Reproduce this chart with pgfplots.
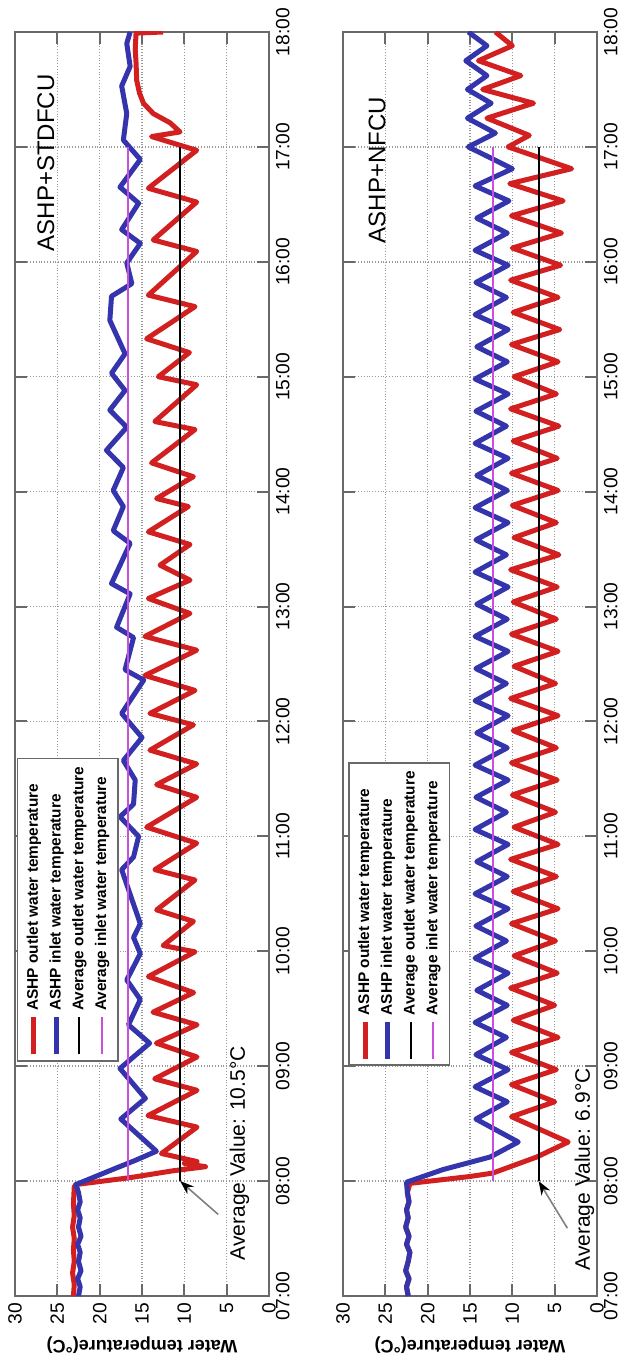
\documentclass[border=0pt]{standalone}
\usepackage{pgfplots}
\pgfplotsset{compat=1.18}
\usepackage{graphicx}
\usepackage{fontspec}
\setmainfont{Liberation Sans}
\usetikzlibrary{arrows.meta}
\definecolor{myred}{RGB}{210,32,32}
\definecolor{myblue}{RGB}{52,52,172}
\definecolor{mypurple}{RGB}{200,80,220}
\definecolor{frame}{RGB}{105,105,105}
\pgfplotsset{
  chartaxis/.style={
    scale only axis, width=632pt, height=127pt, anchor=south west,
    xmin=7, xmax=18, ymin=0, ymax=30,
    xtick={7,8,9,10,11,12,13,14,15,16,17,18},
    xticklabels={07:00,08:00,09:00,10:00,11:00,12:00,13:00,14:00,15:00,16:00,17:00,18:00},
    ytick={0,5,10,15,20,25,30},
    /pgf/number format/assume math mode=true,
    tick label style={font=\fontsize{9.6}{11}\selectfont},
    tick pos=both, tick align=inside, major tick length=6pt,
    every tick/.style={frame, line width=1pt},
    axis line style={frame, line width=1pt},
    grid=major, major grid style={densely dotted, gray!80, line width=0.7pt},
    ylabel={\bfseries Water temperature(°C)},
    ylabel style={at={(axis description cs:-0.0388,0.5)}, anchor=center, font=\fontsize{9}{11}\selectfont},
    legend style={anchor=north west, font=\bfseries\fontsize{7.7}{9.3}\selectfont, draw=frame, line width=0.9pt, inner xsep=2pt, inner ysep=2.5pt, row sep=0.3pt, cells={anchor=west}},
    legend image code/.code={\draw[##1] (0pt,0pt) -- (11.5pt,0pt); \path (0pt,0pt) -- (18.5pt,0pt);},
    clip=true,
  },
  outlet/.style={myred, line width=2.5pt, line join=round},
  inlet/.style={myblue, line width=2.5pt, line join=round},
  avgout/.style={black, line width=1pt},
  avgin/.style={mypurple, line width=1pt},
}
\begin{document}
\rotatebox{90}{%
\begin{tikzpicture}
\useasboundingbox (0,0) rectangle (679.5pt,312pt);
% ---------------- top: ASHP+STDFCU ----------------
\begin{axis}[chartaxis, at={(31.5pt,177.5pt)}, legend style={at={(axis cs:9.04,29.8)}}]
\addplot[outlet] coordinates {
(7.00,23.1)(7.10,23.0)(7.20,23.2)(7.30,23.0)(7.40,23.1)(7.50,23.0)(7.60,23.2)(7.70,23.0)(7.80,23.1)(7.95,23.0)
(7.97,22.8)(8.03,16.4)(8.09,11.3)(8.125,7.5)(8.155,10.0)(8.17,8.5)(8.24,12.7)(8.47,8.5)(8.57,14.3)(8.79,8.5)
(8.89,13.5)(9.08,8.5)(9.20,13.3)(9.36,8.5)(9.47,13.7)(9.64,8.9)(9.78,14.25)(9.995,8.74)(10.05,12.5)(10.26,8.93)
(10.36,13.27)(10.62,8.74)(10.71,13.48)(10.94,8.54)(11.08,14.45)(11.34,8.54)(11.45,13.27)(11.63,8.54)(11.75,14.06)(11.97,8.93)
(12.07,14.06)(12.27,8.74)(12.40,14.65)(12.62,8.54)(12.74,14.65)(12.94,9.33)(13.07,14.25)(13.23,9.33)(13.36,12.87)(13.54,9.33)
(13.65,14.25)(13.87,9.53)(13.94,13.27)(14.13,8.93)(14.25,13.87)(14.54,8.74)(14.61,13.48)(14.93,8.54)(15.00,13.07)(15.21,9.4)
(15.33,14.45)(15.61,8.74)(15.71,14.25)(16.09,8.54)(16.19,13.67)(16.52,8.54)(16.64,14.25)(16.97,8.54)(17.09,13.87)(17.13,10.51)
(17.21,11.69)(17.29,13.67)(17.38,14.83)(17.47,15.3)(17.58,15.63)(17.73,15.7)(17.85,15.8)(17.99,15.7)(18.00,12.5)
};
\addlegendentry{ASHP outlet water temperature}
\addplot[inlet] coordinates {
(7.00,22.5)(7.08,22.3)(7.15,22.6)(7.22,22.2)(7.30,22.5)(7.38,22.3)(7.45,22.6)(7.52,22.2)(7.60,22.5)(7.68,22.3)
(7.75,22.6)(7.82,22.3)(7.90,22.5)(7.97,22.8)(8.10,18.5)(8.18,15.8)(8.26,13.3)(8.54,17.5)(8.72,14.6)(8.98,17.6)
(9.20,14.1)(9.36,16.6)(9.58,15.2)(9.75,16.8)(9.98,15.2)(10.12,16.0)(10.24,15.2)(10.41,16.0)(10.71,17.4)(10.82,16.0)
(11.00,15.4)(11.17,17.6)(11.28,16.0)(11.49,15.8)(11.66,17.2)(11.86,15.0)(12.07,17.4)(12.36,14.8)(12.45,17.0)(12.73,16.0)
(12.82,18.0)(13.11,16.4)(13.20,18.6)(13.55,16.4)(13.66,18.4)(13.87,17.2)(14.01,18.4)(14.21,17.2)(14.36,19.2)(14.56,16.8)
(14.71,18.8)(14.88,17.0)(15.03,18.6)(15.20,17.0)(15.49,18.8)(15.70,18.6)(15.81,16.2)(15.99,16.8)(16.16,15.2)(16.28,17.4)
(16.51,15.4)(16.65,17.6)(16.89,15.2)(17.06,17.2)(17.29,16.8)(17.53,17.4)(17.70,16.4)(17.90,16.8)(18.00,16.4)
};
\addlegendentry{ASHP inlet water temperature}
\addplot[avgout] coordinates {(8,10.5)(17,10.5)};
\addlegendentry{Average outlet water temperature}
\addplot[avgin] coordinates {(8,16.6)(17,16.6)};
\addlegendentry{Average inlet water temperature}
\node[anchor=east, font=\fontsize{12}{14}\selectfont] at (rel axis cs:0.972,0.878) {ASHP+STDFCU};
\node[anchor=base west, font=\fontsize{10.5}{12}\selectfont] at (axis cs:7.25,2.85) {Average Value: 10.5°C};
\draw[gray, line width=0.8pt, -{Stealth[black,length=7pt,width=5pt]}] (axis cs:7.71,6.0) -- (axis cs:8.0,10.5);
\end{axis}
% ---------------- bottom: ASHP+NFCU ----------------
\begin{axis}[chartaxis, at={(31.5pt,13.5pt)}, legend style={at={(axis cs:9.0,29.4)}}]
\addplot[outlet] coordinates {
(7.00,22.3)(7.08,22.5)(7.15,22.2)(7.22,22.6)(7.30,22.3)(7.38,22.1)(7.45,22.5)(7.52,22.2)(7.60,22.6)(7.68,22.3)
(7.75,22.5)(7.82,22.2)(7.90,22.4)(7.98,22.1)(8.04,15.0)(8.07,12.3)(8.21,7.1)(8.34,3.4)(8.56,10.1)(8.69,5.0)
(8.84,10.1)(8.97,4.8)(9.12,10.1)(9.25,4.6)(9.40,9.9)(9.53,5.0)(9.68,10.2)(9.81,4.7)(9.96,9.8)(10.09,4.9)
(10.24,10.1)(10.37,4.6)(10.52,9.9)(10.65,4.8)(10.80,10.2)(10.93,4.6)(11.08,9.8)(11.21,4.9)(11.36,10.0)(11.49,4.7)
(11.64,10.1)(11.77,4.8)(11.92,9.9)(12.05,4.6)(12.20,10.2)(12.33,4.9)(12.48,9.8)(12.61,4.6)(12.76,10.1)(12.89,4.8)
(13.04,9.9)(13.17,4.7)(13.32,10.2)(13.45,4.5)(13.60,9.8)(13.73,4.8)(13.88,10.0)(14.01,4.6)(14.16,10.1)(14.29,4.7)
(14.44,9.9)(14.57,4.5)(14.72,10.2)(14.85,4.8)(15.00,9.8)(15.13,4.6)(15.28,10.1)(15.41,4.4)(15.56,9.9)(15.69,4.6)
(15.84,10.2)(15.97,4.3)(16.12,10.0)(16.25,4.2)(16.40,10.1)(16.53,4.0)(16.68,10.3)(16.81,3.0)(17.00,10.5)(17.10,8.0)
(17.25,13.0)(17.38,7.5)(17.50,13.5)(17.62,9.0)(17.75,14.0)(17.88,10.0)(18.00,12.0)
};
\addlegendentry{ASHP outlet water temperature}
\addplot[inlet] coordinates {
(7.00,22.3)(7.08,22.5)(7.15,22.2)(7.22,22.6)(7.30,22.3)(7.38,22.1)(7.45,22.5)(7.52,22.2)(7.60,22.6)(7.68,22.3)
(7.75,22.5)(7.82,22.2)(7.90,22.4)(7.99,22.5)(8.10,18.2)(8.21,12.6)(8.34,9.3)(8.54,14.3)(8.69,10.6)(8.82,14.4)
(8.97,10.5)(9.10,14.3)(9.25,10.7)(9.38,14.4)(9.53,10.6)(9.66,14.2)(9.81,10.5)(9.94,14.4)(10.09,10.7)(10.22,14.3)
(10.37,10.5)(10.50,14.4)(10.65,10.6)(10.78,14.2)(10.93,10.5)(11.06,14.4)(11.21,10.7)(11.34,14.3)(11.49,10.5)(11.62,14.4)
(11.77,10.6)(11.90,14.2)(12.05,10.5)(12.18,14.4)(12.33,10.7)(12.46,14.3)(12.61,10.5)(12.74,14.4)(12.89,10.6)(13.02,14.2)
(13.17,10.5)(13.30,14.4)(13.45,10.7)(13.58,14.3)(13.73,10.5)(13.86,14.4)(14.01,10.6)(14.14,14.2)(14.29,10.5)(14.42,14.4)
(14.57,10.7)(14.70,14.3)(14.85,10.5)(14.98,14.4)(15.13,10.6)(15.26,14.2)(15.41,10.5)(15.54,14.4)(15.69,10.7)(15.82,14.3)
(15.97,10.5)(16.10,14.4)(16.25,10.6)(16.38,14.2)(16.53,10.4)(16.66,14.4)(16.81,10.0)(17.00,15.2)(17.12,12.0)(17.25,15.3)
(17.38,12.5)(17.50,15.3)(17.62,13.0)(17.75,15.5)(17.88,13.0)(18.00,15.2)
};
\addlegendentry{ASHP inlet water temperature}
\addplot[avgout] coordinates {(8,6.9)(17,6.9)};
\addlegendentry{Average outlet water temperature}
\addplot[avgin] coordinates {(8,12.3)(17,12.3)};
\addlegendentry{Average inlet water temperature}
\node[anchor=east, font=\fontsize{12}{14}\selectfont] at (rel axis cs:0.954,0.866) {ASHP+NFCU};
\node[anchor=base west, font=\fontsize{10.5}{12}\selectfont] at (axis cs:7.16,0.83) {Average Value: 6.9°C};
\draw[gray, line width=0.8pt, -{Stealth[black,length=7pt,width=5pt]}] (axis cs:7.59,3.5) -- (axis cs:8.0,6.9);
\end{axis}
\end{tikzpicture}}
\end{document}
